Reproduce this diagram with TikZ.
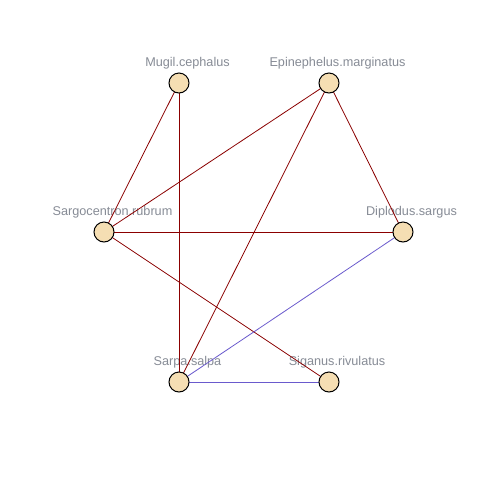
\documentclass[tikz,border=0pt]{standalone}
\usepackage{fontspec}
\setmainfont{Liberation Sans}
\definecolor{lblgray}{RGB}{135,140,150}
\definecolor{edgered}{RGB}{139,0,0}
\definecolor{edgeblue}{RGB}{106,90,205}
\definecolor{vfill}{RGB}{245,222,179}
\begin{document}
\begin{tikzpicture}[x=0.75pt,y=-0.75pt,
  vtx/.style={circle,draw=black,fill=vfill,line width=0.75pt,minimum size=15pt,inner sep=0pt},
  lbl/.style={text=lblgray,font=\fontsize{9.5pt}{10pt}\selectfont,anchor=base,inner sep=0pt},
  redge/.style={draw=edgered,line width=0.6pt},
  bedge/.style={draw=edgeblue,line width=0.6pt}]
\useasboundingbox (0,0) rectangle (480,480);
\fill[white] (0,0) rectangle (480,480);
% coordinates
\coordinate (pM) at (179,83);
\coordinate (pE) at (329,83);
\coordinate (pSr) at (104,232);
\coordinate (pD) at (403,232);
\coordinate (pSa) at (179,382);
\coordinate (pSi) at (329,382);
% labels
\node[lbl] (lM) at (187.5,66) {Mugil.cephalus};
\node[lbl] (lE) at (337.5,66) {Epinephelus.marginatus};
\node[lbl] (lSr) at (112.5,215) {Sargocentron.rubrum};
\node[lbl] (lD) at (411.5,215) {Diplodus.sargus};
\node[lbl] (lSa) at (187.5,365) {Sarpa.salpa};
\node[lbl] (lSi) at (337,365) {Siganus.rivulatus};
% edges
\draw[redge] (pM) -- (pSr);
\draw[redge] (pM) -- (pSa);
\draw[redge] (pE) -- (pSr);
\draw[redge] (pE) -- (pSa);
\draw[redge] (pE) -- (pD);
\draw[redge] (pSr) -- (pD);
\draw[redge] (pSr) -- (pSi);
\draw[bedge] (pD) -- (pSa);
\draw[bedge] (pSa) -- (pSi);
% vertices
\node[vtx] (M) at (pM) {};
\node[vtx] (E) at (pE) {};
\node[vtx] (Sr) at (pSr) {};
\node[vtx] (D) at (pD) {};
\node[vtx] (Sa) at (pSa) {};
\node[vtx] (Si) at (pSi) {};
\end{tikzpicture}
\end{document}
